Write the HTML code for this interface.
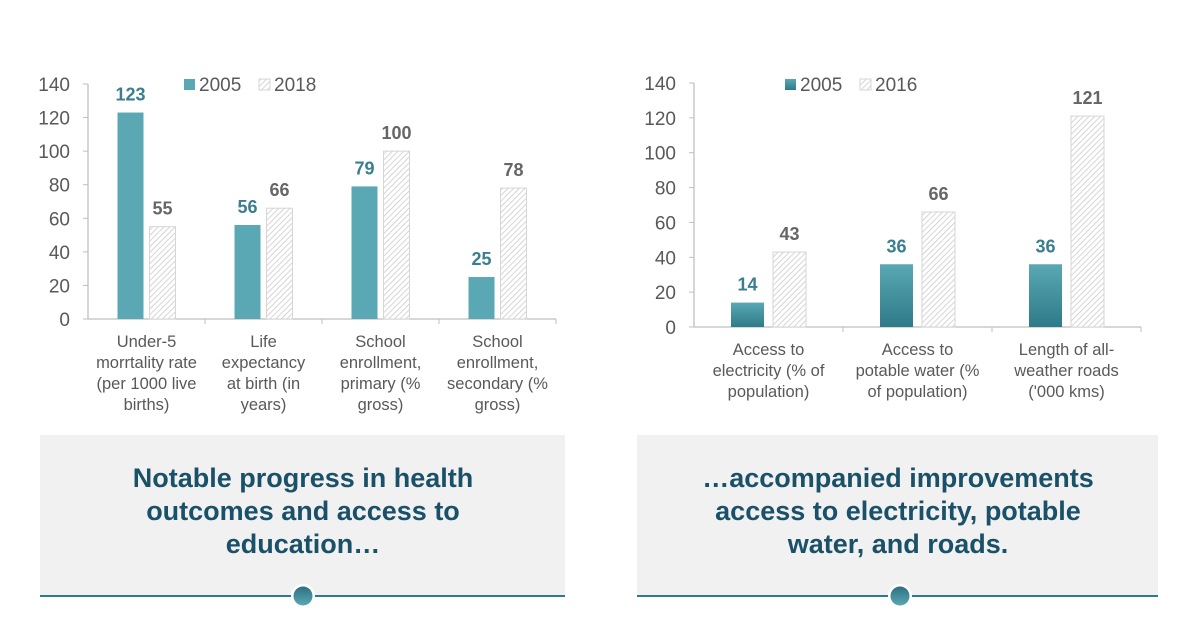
<!DOCTYPE html>
<html><head><meta charset="utf-8"><style>
body{margin:0;width:1200px;height:628px;background:#fff;overflow:hidden;font-family:"Liberation Sans",sans-serif}
svg{position:absolute;left:0;top:0}
</style></head><body>
<svg width="1200" height="628">
<defs>
<pattern id="hatch" width="4" height="4" patternUnits="userSpaceOnUse" patternTransform="rotate(45)">
<rect width="4" height="4" fill="#fff"/><line x1="0" y1="0" x2="0" y2="4" stroke="#c8c8c8" stroke-width="1.5"/></pattern>
<linearGradient id="tealg" x1="0" y1="0" x2="0" y2="1"><stop offset="0" stop-color="#5aa8b4"/><stop offset="1" stop-color="#2f7a88"/></linearGradient>
<linearGradient id="dotg" x1="0" y1="0" x2="0" y2="1"><stop offset="0" stop-color="#2f6f82"/><stop offset="1" stop-color="#5aa8b4"/></linearGradient>
</defs>
<g id="c1"></g>
<g id="c2"></g>
<g>
<rect x="40" y="435" width="525" height="161" fill="#f1f1f1"/>
<line x1="40" y1="596" x2="565" y2="596" stroke="#2f7a88" stroke-width="2"/>
<circle cx="303" cy="596" r="12" fill="#fff"/><circle cx="303" cy="596" r="9.5" fill="url(#dotg)"/>
<text x="303" font-size="27" font-weight="bold" fill="#1a5168" text-anchor="middle"><tspan x="303" y="487">Notable progress in health</tspan><tspan x="303" y="520">outcomes and access to</tspan><tspan x="303" y="553">education…</tspan></text>
</g>
<g>
<rect x="637" y="435" width="521" height="161" fill="#f1f1f1"/>
<line x1="637" y1="596" x2="1158" y2="596" stroke="#2f7a88" stroke-width="2"/>
<circle cx="900" cy="596" r="12" fill="#fff"/><circle cx="900" cy="596" r="9.5" fill="url(#dotg)"/>
<text x="898" font-size="27" font-weight="bold" fill="#1a5168" text-anchor="middle"><tspan x="898" y="487">…accompanied improvements</tspan><tspan x="898" y="520">access to electricity, potable</tspan><tspan x="898" y="553">water, and roads.</tspan></text>
</g>
</svg>
<script>
const cats1=[["Under-5","morrtality rate","(per 1000 live","births)"],["Life","expectancy","at birth (in","years)"],["School","enrollment,","primary (%","gross)"],["School","enrollment,","secondary (%","gross)"]];
const s1a=[123,56,79,25];
const s1b=[55,66,100,78];
const leg1=["2005","2018"];
const cats2=[["Access to","electricity (% of","population)"],["Access to","potable water (%","of population)"],["Length of all-","weather roads","('000 kms)"]];
const s2a=[14,36,36];
const s2b=[43,66,121];
const leg2=["2005","2016"];
const ticks=[0,20,40,60,80,100,120,140];
const NS="http://www.w3.org/2000/svg";
function mk(p,t,a,txt){const e=document.createElementNS(NS,t);for(const k in a)e.setAttribute(k,a[k]);if(txt!==undefined)e.textContent=txt;p.appendChild(e);return e;}
function chart(g,o){
  const y=v=>o.y0-(o.y0-o.y1)*v/140;
  const n=o.cats.length,cw=o.cw;
  mk(g,'line',{x1:o.x0,y1:o.y0,x2:o.x0+n*cw,y2:o.y0,stroke:'#bfbfbf','stroke-width':1.3});
  mk(g,'line',{x1:o.x0,y1:o.y0,x2:o.x0,y2:y(140),stroke:'#bfbfbf','stroke-width':1.3});
  ticks.forEach(t=>{
    mk(g,'line',{x1:o.x0-5,y1:y(t),x2:o.x0,y2:y(t),stroke:'#bfbfbf'});
    const tx=mk(g,'text',{x:o.x0-18,y:y(t)+7,'font-size':19,fill:'#595959','text-anchor':'end'},t);
    
    
  });
  for(let i=1;i<=n;i++)mk(g,'line',{x1:o.x0+i*cw,y1:o.y0,x2:o.x0+i*cw,y2:o.y0+5,stroke:'#bfbfbf'});
  o.cats.forEach((c,i)=>{
    const cx=o.x0+(i+0.5)*cw;
    const a=o.a[i],b=o.b[i];
    const xa=cx-o.gap/2-o.bw,xb=cx+o.gap/2;
    const ra=mk(g,'rect',{x:xa,y:y(a),width:o.bw,height:o.y0-y(a),fill:o.fillA});
    
    
    const rb=mk(g,'rect',{x:xb,y:y(b),width:o.bw,height:o.y0-y(b),fill:'url(#hatch)',stroke:'#d6d6d6'});
    
    
    const la=mk(g,'text',{x:xa+o.bw/2,y:y(a)-12,'font-size':18,'font-weight':'bold',fill:'#3a7f8f','text-anchor':'middle'},a);
    
    
    const lb=mk(g,'text',{x:xb+o.bw/2,y:y(b)-12,'font-size':18,'font-weight':'bold',fill:'#666','text-anchor':'middle'},b);
    
    
    const ct=mk(g,'text',{'font-size':16.5,fill:'#595959','text-anchor':'middle'});
    
    
    c.forEach((l,j)=>mk(ct,'tspan',{x:cx,y:o.y0+28+j*21},l));
  });
  const lg=mk(g,'g',{});
  
  
  mk(lg,'rect',{x:o.lx,y:o.ly-12,width:11,height:11,fill:o.fillA});
  mk(lg,'text',{x:o.lx+15,y:o.ly,'font-size':19,fill:'#595959'},o.leg[0]);
  mk(lg,'rect',{x:o.lx+75,y:o.ly-12,width:11,height:11,fill:'url(#hatch)',stroke:'#d6d6d6'});
  mk(lg,'text',{x:o.lx+90,y:o.ly},o.leg[1]).setAttribute('style','font-size:19px;fill:#595959');
}
chart(document.getElementById('c1'),{x0:88,y0:319,y1:84,cw:117,bw:26,gap:6,cats:cats1,a:s1a,b:s1b,leg:leg1,fillA:'#5aa8b4',lx:184,ly:91});
chart(document.getElementById('c2'),{x0:694,y0:327,y1:83,cw:149,bw:33,gap:9,cats:cats2,a:s2a,b:s2b,leg:leg2,fillA:'url(#tealg)',lx:785,ly:91});
</script>
</body></html>
